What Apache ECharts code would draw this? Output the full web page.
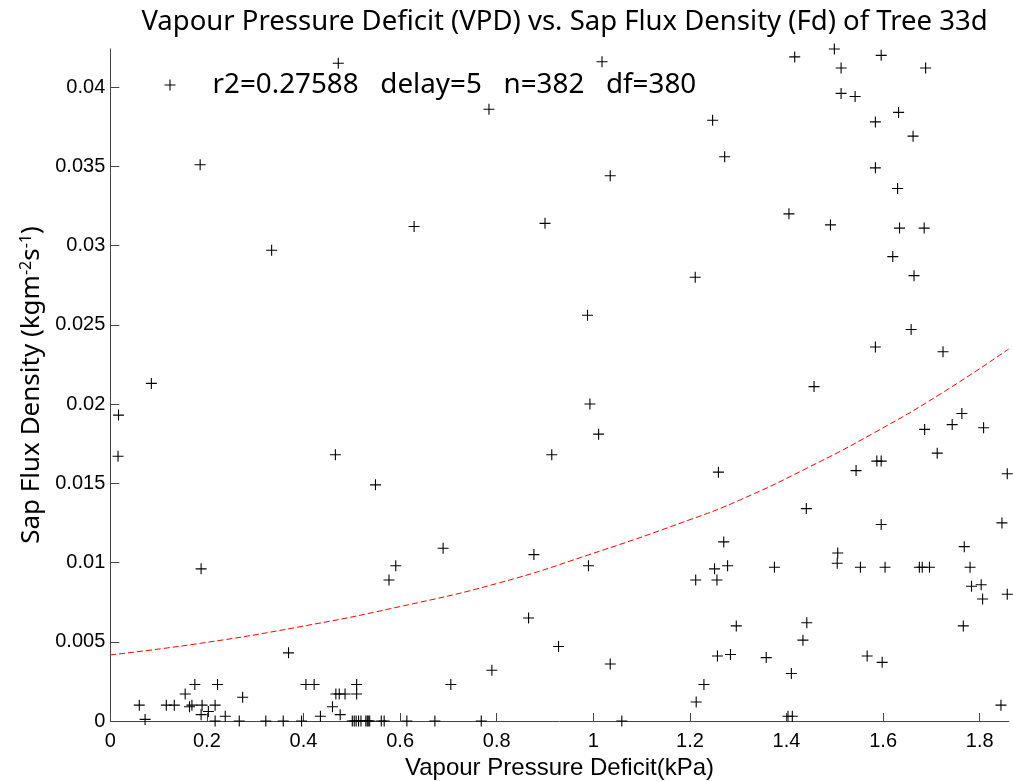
<!DOCTYPE html>
<html><head><meta charset="utf-8">
<script src="https://cdn.jsdelivr.net/npm/echarts@6/dist/echarts.min.js"></script>
<style>html,body{margin:0;padding:0;background:#fff}#c{width:1013px;height:781px}</style>
</head><body><div id="c"></div>
<script>
// Scatter points (VPD in kPa, Fd in kg m^-2 s^-1)
const vpd = [
  0.472,0.186,0.334,0.629,1.018,0.784,1.247,1.272,1.035,0.900,1.211,
  1.417,1.499,1.596,1.513,1.688,1.513,1.542,1.632,1.584,1.662,1.584,1.630,1.405,1.491,1.634,1.685,1.620,1.664,
  1.658,1.584,1.724,1.457,1.763,1.743,1.686,1.808,1.712,1.587,1.596,1.544,1.857,1.441,1.596,1.846,1.768,1.506,
  0.988,0.993,1.011,0.914,1.259,
  0.085,0.017,0.016,0.466,0.549,
  0.689,0.877,1.270,0.990,1.212,1.251,1.256,1.278,1.375,1.505,1.553,1.604,1.675,1.681,1.696,1.780,1.783,1.803,1.806,1.857,
  0.866,1.296,1.442,1.434,1.766,0.928,1.035,0.790,0.705,1.257,1.284,1.358,1.567,1.598,1.410,1.229,1.213,1.844,1.412,1.403,
  0.188,0.577,0.591,0.369,
  0.060,0.072,0.116,0.1325,0.155,0.175,0.164,0.169,0.190,0.188,0.203,0.217,0.222,0.238,0.274,0.405,0.422,0.435,0.460,0.467,0.474,0.486,0.476,0.510,0.510,
  0.217,0.267,0.322,0.358,0.396,0.501,0.505,0.509,0.514,0.519,0.529,0.532,0.534,0.537,0.561,0.567,0.614,0.672,0.768,1.059
];
const fd = [
  0.0415,0.0351,0.0297,0.0312,0.0416,0.0386,0.0379,0.0356,0.0344,0.0314,0.0280,
  0.0419,0.0424,0.0420,0.0412,0.0412,0.0396,0.0394,0.0384,0.0378,0.0369,0.0349,0.0336,0.0320,0.0313,0.0311,0.0311,0.0293,0.0281,
  0.0247,0.0236,0.0233,0.0211,0.0194,0.0187,0.0184,0.0185,0.0169,0.0164,0.0164,0.0158,0.0156,0.0134,0.0124,0.0125,0.0110,0.0106,
  0.0256,0.0200,0.0181,0.0168,0.0157,
  0.0213,0.0193,0.0167,0.0168,0.0149,
  0.0109,0.0105,0.0113,0.0098,0.0089,0.0096,0.0089,0.0098,0.0097,0.00995,0.0097,0.0097,0.0097,0.0097,0.0097,0.0097,0.0085,0.0086,0.0077,0.0080,
  0.0065,0.0060,0.0062,0.0051,0.0060,0.0047,0.0036,0.0032,0.0023,0.0041,0.0042,0.0040,0.0041,0.0037,0.0030,0.0023,0.0012,0.0010,0.0003,0.0003,
  0.0096,0.0089,0.0098,0.0043,
  0.0010,0.0001,0.0010,0.0010,0.0017,0.0023,0.0009,0.0010,0.0010,0.0004,0.0006,0.0010,0.0023,0.0003,0.0015,0.0023,0.0023,0.0003,0.0009,0.0017,0.0017,0.0017,0.0004,0.0023,0.0017,
  0,0,0,0,0,0,0,0,0,0,0,0,0,0,0,0,0,0,0,0
];
// Fitted curve
const fitVpd = [0, 0.186, 0.393, 0.600, 0.807, 0.990, 1.200, 1.304, 1.442, 1.580, 1.718, 1.860];
const fitFd  = [0.00417, 0.0049, 0.00595, 0.00722, 0.00873, 0.01048, 0.0127, 0.01395, 0.01595, 0.01816, 0.02062, 0.02347];
const xTicks = [0, 0.2, 0.4, 0.6, 0.8, 1, 1.2, 1.4, 1.6, 1.8];
const yTicks = [0, 0.005, 0.01, 0.015, 0.02, 0.025, 0.03, 0.035, 0.04];
const titleText = 'Vapour Pressure Deficit (VPD) vs. Sap Flux Density (Fd) of Tree 33d';
const legendText = 'r2=0.27588   delay=5   n=382   df=380';

const cross = 'path://M4.5,0H5.5V4.5H10V5.5H5.5V10H4.5V5.5H0V4.5H4.5Z';
const pts = vpd.map((x, i) => [x, fd[i]]);
const fit = fitVpd.map((x, i) => [x, fitFd[i]]);

const chart = echarts.init(document.getElementById('c'), null, {renderer: 'canvas'});
chart.setOption({
  backgroundColor: '#fff',
  animation: false,
  title: {
    text: titleText, left: 559.5, top: 3, textAlign: 'center',
    textStyle: {fontFamily: 'Noto Sans', fontSize: 27.5, fontWeight: 'normal', color: '#000'}
  },
  legend: {
    data: [{name: legendText, icon: cross}],
    left: 164.5, top: 69, padding: 0, itemWidth: 11, itemHeight: 11,
    textStyle: {fontFamily: 'Noto Sans', fontSize: 27.8, color: '#000', padding: [0, 0, 0, 32], lineHeight: 32},
    itemStyle: {color: '#000'}
  },
  grid: {left: 110.3, right: 4.3, top: 49, bottom: 60, containLabel: false, outerBoundsMode: 'none'},
  xAxis: {
    type: 'value', min: 0, max: 1.86,
    name: 'Vapour Pressure Deficit(kPa)', nameLocation: 'middle', nameGap: 27,
    nameTextStyle: {fontFamily: 'Liberation Sans', fontSize: 24, color: '#000'},
    axisLine: {show: true, lineStyle: {color: '#444', width: 1}},
    axisTick: {show: true, inside: true, length: 8, customValues: xTicks, lineStyle: {color: '#444'}},
    axisLabel: {customValues: xTicks, fontFamily: 'Liberation Sans', fontSize: 20, color: '#000', margin: 10},
    splitLine: {show: false}
  },
  yAxis: {
    type: 'value', min: 0, max: 0.0424,
    name: 'Sap Flux Density (kgm{s|-2}s{s|-1})', nameLocation: 'middle', nameGap: 66, nameRotate: 90,
    nameTextStyle: {fontFamily: 'Noto Sans', fontSize: 26, color: '#000',
      rich: {s: {fontFamily: 'Noto Sans', fontSize: 16, color: '#000', verticalAlign: 'top', lineHeight: 26}}},
    axisLine: {show: true, lineStyle: {color: '#444', width: 1}},
    axisTick: {show: true, inside: true, length: 9, customValues: yTicks, lineStyle: {color: '#444'}},
    axisLabel: {customValues: yTicks, fontFamily: 'Liberation Sans', fontSize: 20, color: '#000', margin: 5},
    splitLine: {show: false}
  },
  series: [
    {
      name: legendText, type: 'scatter', data: pts, symbol: cross, symbolSize: 11,
      itemStyle: {color: '#000', opacity: 1}, z: 3
    },
    {
      name: 'fit', type: 'line', data: fit, smooth: true, showSymbol: false, symbol: 'none',
      lineStyle: {color: '#ff0000', width: 1, type: [6, 3]}, z: 2
    }
  ]
});
</script></body></html>
